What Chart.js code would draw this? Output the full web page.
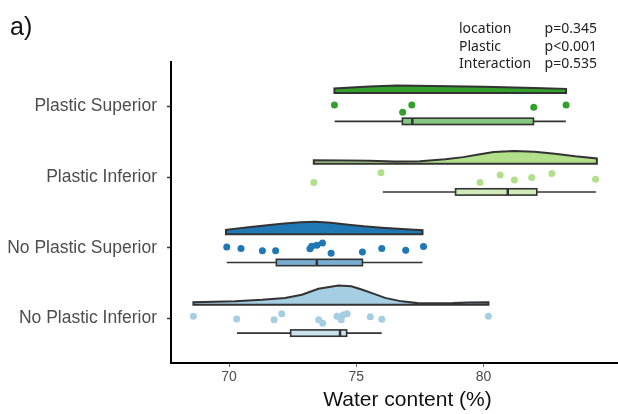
<!DOCTYPE html>
<html>
<head>
<meta charset="utf-8">
<script src="https://cdn.jsdelivr.net/npm/chart.js@4.4.1/dist/chart.umd.min.js"></script>
<style>
  html, body { margin: 0; padding: 0; background: #fff; }
  #wrap { width: 618px; height: 414px; position: relative; }
</style>
</head>
<body>
<div id="wrap"><canvas id="myChart"></canvas></div>
<script>
// groups, bottom to top
const categories = ["No Plastic Inferior", "No Plastic Superior", "Plastic Inferior", "Plastic Superior"];
const fillColors = ["#a6cee3", "#1f78b4", "#b2df8a", "#33a02c"];
const boxColors = ["#cae2ee", "#79aed2", "#d1ecb9", "#85c680"];
const xTickValues = [70, 75, 80];

// raw observations (water content %) and vertical jitter
const npiValues = [68.6, 70.3, 71.77, 72.07, 73.52, 73.68, 74.24, 74.41, 74.49, 74.64, 75.55, 76.0, 80.19];
const npiJitter = [0.03, -0.01, -0.02, 0.065, -0.02, -0.07, 0.03, -0.02, 0.05, 0.065, 0.02, -0.015, 0.03];
const npsValues = [69.91, 70.47, 71.31, 71.83, 73.18, 73.25, 73.45, 73.67, 74.01, 75.24, 76.0, 76.94, 77.64];
const npsJitter = [0.01, -0.01, -0.045, -0.045, -0.015, 0.02, 0.035, 0.065, -0.08, -0.06, -0.01, -0.035, 0.015];
const piValues = [73.33, 75.97, 79.86, 80.65, 81.21, 81.89, 82.68, 84.4];
const piJitter = [-0.075, 0.06, -0.075, 0.03, -0.04, -0.005, 0.05, -0.03];
const psValues = [74.14, 76.82, 77.18, 81.97, 83.24];
const psJitter = [0.02, -0.08, 0.02, -0.01, 0.02];

// density curves (relative)
const npiDensX = [68.6, 70.24, 71.3, 72.2, 72.86, 73.51, 74.3, 74.8, 75.21, 75.7, 76.13, 76.78, 77.4, 78.09, 78.8, 79.4, 80.19];
const npiDensY = [0.13, 0.19, 0.26, 0.36, 0.52, 0.83, 1.0, 0.96, 0.79, 0.57, 0.36, 0.18, 0.1, 0.08, 0.09, 0.12, 0.13];
const npsDensX = [69.88, 70.76, 71.5, 72.07, 72.8, 73.38, 74.0, 74.69, 75.3, 76.0, 76.8, 77.6];
const npsDensY = [0.23, 0.36, 0.47, 0.54, 0.62, 0.65, 0.6, 0.49, 0.41, 0.34, 0.27, 0.21];
const piDensX = [73.33, 74.5, 75.5, 76.5, 77.5, 78.5, 79.2, 79.8, 80.4, 81.2, 82.0, 82.8, 83.6, 84.45];
const piDensY = [0.18, 0.17, 0.155, 0.12, 0.13, 0.23, 0.34, 0.47, 0.6, 0.66, 0.62, 0.51, 0.38, 0.27];
const psDensX = [74.14, 75.5, 76.6, 78.0, 80.0, 82.0, 83.24];
const psDensY = [0.24, 0.34, 0.39, 0.37, 0.33, 0.26, 0.22];

// box plot stats, same order as categories
const boxMin = [70.31, 69.91, 76.04, 74.15];
const boxQ1 = [72.42, 71.86, 78.9, 76.81];
const boxMed = [74.36, 73.45, 80.95, 77.2];
const boxQ3 = [74.62, 75.24, 82.09, 81.96];
const boxMax = [76.0, 77.6, 84.41, 83.23];

const ridgeOffset = 0.19;
const ridgeHeight = 0.274;
const boxOffset = -0.21;
const boxHalf = 0.045;

const allValues = [npiValues, npsValues, piValues, psValues];
const allJitter = [npiJitter, npsJitter, piJitter, psJitter];
const allDensX = [npiDensX, npsDensX, piDensX, psDensX];
const allDensY = [npiDensY, npsDensY, piDensY, psDensY];

function ridgeDataset(i) {
    const xs = allDensX[i], ds = allDensY[i];
    const base = i + 1 + ridgeOffset;
    const pts = [{ x: xs[0], y: base }];
    xs.forEach((v, k) => pts.push({ x: v, y: base + ds[k] * ridgeHeight }));
    pts.push({ x: xs[xs.length - 1], y: base });
    pts.push({ x: xs[0], y: base });
    return {
        type: "line",
        data: pts,
        fill: "shape",
        backgroundColor: fillColors[i],
        borderColor: "#333333",
        borderWidth: 2,
        borderJoinStyle: "miter",
        borderCapStyle: "square",
        pointRadius: 0,
        tension: 0
    };
}

function pointDataset(i) {
    return {
        type: "scatter",
        data: allValues[i].map((v, k) => ({ x: v, y: i + 1 + allJitter[i][k] })),
        backgroundColor: fillColors[i],
        borderWidth: 0,
        pointRadius: 3.5
    };
}

const boxPlugin = {
    id: "boxes",
    afterDatasetsDraw(chart) {
        const { ctx, scales: { x, y } } = chart;
        ctx.save();
        ctx.strokeStyle = "#333333";
        categories.forEach((c, i) => {
            const yc = y.getPixelForValue(i + 1 + boxOffset);
            const yt = y.getPixelForValue(i + 1 + boxOffset + boxHalf);
            const yb = y.getPixelForValue(i + 1 + boxOffset - boxHalf);
            ctx.lineWidth = 1.6;
            ctx.beginPath();
            ctx.moveTo(x.getPixelForValue(boxMin[i]), yc);
            ctx.lineTo(x.getPixelForValue(boxMax[i]), yc);
            ctx.stroke();
            const x1 = x.getPixelForValue(boxQ1[i]);
            const x3 = x.getPixelForValue(boxQ3[i]);
            ctx.fillStyle = boxColors[i];
            ctx.fillRect(x1, yt, x3 - x1, yb - yt);
            ctx.strokeRect(x1, yt, x3 - x1, yb - yt);
            const xm = x.getPixelForValue(boxMed[i]);
            ctx.lineWidth = 2.5;
            ctx.beginPath();
            ctx.moveTo(xm, yt);
            ctx.lineTo(xm, yb);
            ctx.stroke();
        });
        ctx.restore();
    }
};

const textPlugin = {
    id: "texts",
    afterDraw(chart) {
        const { ctx } = chart;
        ctx.save();
        ctx.fillStyle = "#111";
        ctx.textBaseline = "alphabetic";
        ctx.font = "25px 'Liberation Sans', Arial, sans-serif";
        ctx.textAlign = "left";
        ctx.fillText("a)", 10, 35);

        ctx.font = "21px 'Liberation Sans', Arial, sans-serif";
        ctx.textAlign = "center";
        ctx.fillText("Water content (%)", 407.5, 405.5);

        ctx.fillStyle = "#222";
        ctx.font = "14px 'Noto Sans', sans-serif";
        const names = ["location", "Plastic", "Interaction"];
        const pvals = ["p=0.345", "p<0.001", "p=0.535"];
        names.forEach((n, k) => {
            ctx.textAlign = "left";
            ctx.fillText(n, 459, 32.7 + k * 17.8);
            ctx.textAlign = "right";
            ctx.fillText(pvals[k], 597, 32.7 + k * 17.8);
        });
        ctx.restore();
    }
};

const datasets = [0, 1, 2, 3].map(pointDataset).concat([0, 1, 2, 3].map(ridgeDataset));

new Chart(document.getElementById("myChart").getContext("2d"), {
    type: "scatter",
    data: { datasets: datasets },
    options: {
        responsive: true,
        maintainAspectRatio: false,
        animation: false,
        layout: { autoPadding: false, padding: { top: 62, right: 0, bottom: 0, left: 0 } },
        plugins: { legend: { display: false }, tooltip: { enabled: false } },
        scales: {
            x: {
                type: "linear",
                position: "bottom",
                min: 67.72,
                max: 85.28,
                afterBuildTicks: s => { s.ticks = xTickValues.map(v => ({ value: v })); },
                afterFit: s => { s.height = 51; },
                grid: { drawOnChartArea: false, tickLength: 4, tickColor: "#666", tickWidth: 1 },
                border: { color: "#000", width: 2 },
                ticks: { padding: 2, color: "#4d4d4d", maxRotation: 0, font: { family: "'Liberation Sans', Arial, sans-serif", size: 14 } }
            },
            y: {
                type: "linear",
                min: 0.366,
                max: 4.631,
                afterBuildTicks: s => { s.ticks = categories.map((c, i) => ({ value: i + 1 })); },
                afterFit: s => { s.width = 171; },
                grid: { drawOnChartArea: false, tickLength: 4, tickColor: "#333", tickWidth: 1.5 },
                border: { color: "#000", width: 2 },
                ticks: {
                    padding: 10,
                    autoSkip: false,
                    color: "#4d4d4d",
                    font: { family: "'Liberation Sans', Arial, sans-serif", size: 17.5 },
                    callback: v => categories[v - 1]
                }
            }
        }
    },
    plugins: [boxPlugin, textPlugin]
});
</script>
</body>
</html>
